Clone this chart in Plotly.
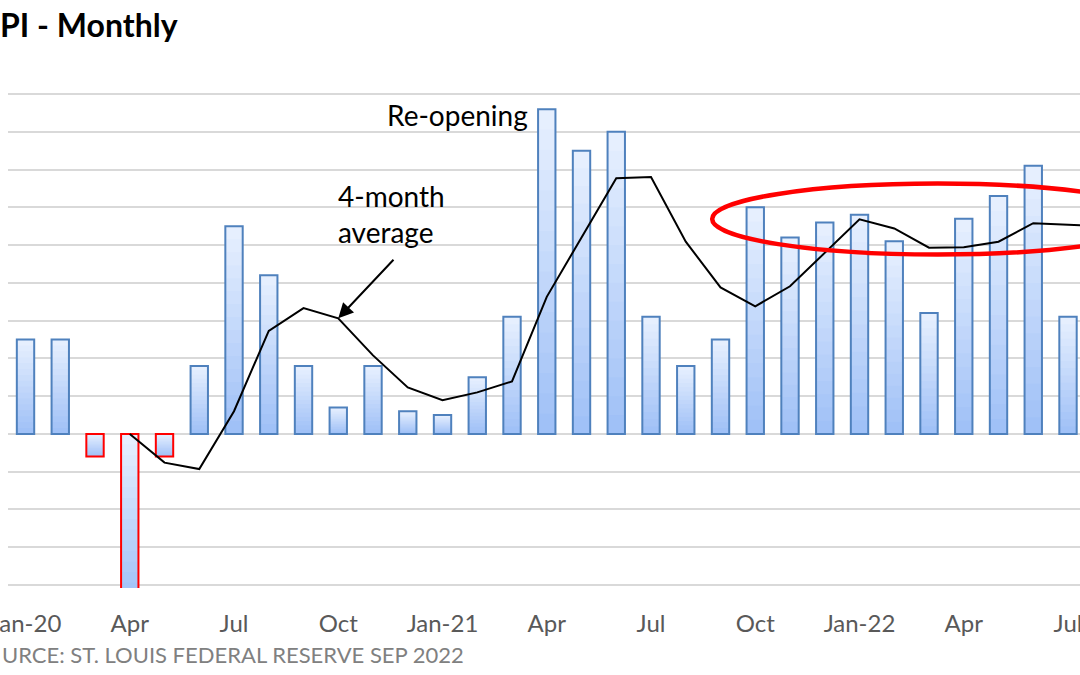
import plotly.graph_objects as go

# ---------------- data ----------------
months = ["Jan-20", "Feb-20", "Mar-20", "Apr-20", "May-20", "Jun-20", "Jul-20", "Aug-20",
          "Sep-20", "Oct-20", "Nov-20", "Dec-20", "Jan-21", "Feb-21", "Mar-21", "Apr-21",
          "May-21", "Jun-21", "Jul-21", "Aug-21", "Sep-21", "Oct-21", "Nov-21", "Dec-21",
          "Jan-22", "Feb-22", "Mar-22", "Apr-22", "May-22", "Jun-22", "Jul-22", "Aug-22"]

cpi_monthly = [0.25, 0.25, -0.06, -0.45, -0.06, 0.18, 0.55, 0.42,
               0.18, 0.07, 0.18, 0.06, 0.05, 0.15, 0.31, 0.86,
               0.75, 0.80, 0.31, 0.18, 0.25, 0.60, 0.52, 0.56,
               0.58, 0.51, 0.32, 0.57, 0.63, 0.71, 0.31, None]

avg_4month = [None, None, None, 0.00, -0.076, -0.093, 0.06, 0.273,
              0.333, 0.306, 0.208, 0.123, 0.089, 0.11, 0.139, 0.363,
              0.52, 0.677, 0.68, 0.509, 0.388, 0.338, 0.391, 0.48,
              0.568, 0.544, 0.493, 0.494, 0.509, 0.558, 0.555, 0.55]

tick_positions = [0, 3, 6, 9, 12, 15, 18, 21, 24, 27, 30]
tick_labels = ["Jan-20", "Apr", "Jul", "Oct", "Jan-21", "Apr", "Jul", "Oct", "Jan-22", "Apr", "Jul"]

x_idx = list(range(len(months)))

# ---------------- styling ----------------
FONT = "Lato"
TOP_RGB = (230, 239, 254)      # light top of bar gradient
BOT_RGB = (160, 193, 247)      # darker bottom of bar gradient
N_STEPS = 16
BAR_W = 0.5


def mix(t):
    r = round(TOP_RGB[0] + (BOT_RGB[0] - TOP_RGB[0]) * t)
    g = round(TOP_RGB[1] + (BOT_RGB[1] - TOP_RGB[1]) * t)
    b = round(TOP_RGB[2] + (BOT_RGB[2] - TOP_RGB[2]) * t)
    return f"rgb({r},{g},{b})"


fig = go.Figure()

# gradient fill: overlaid bars, each one a fraction of the value
for k in range(N_STEPS):
    frac = (N_STEPS - k) / N_STEPS
    vals = [None if v is None else v * frac for v in cpi_monthly]
    t = k / (N_STEPS - 1)
    cols = [mix(t) if (v is None or v >= 0) else mix(1 - t) for v in cpi_monthly]
    fig.add_trace(go.Bar(x=x_idx, y=vals, width=BAR_W,
                         marker=dict(color=cols, line=dict(width=0)),
                         hoverinfo="skip", showlegend=False))

# outlines
outline_cols = ["#4f81bd" if (v is None or v >= 0) else "#ff0000" for v in cpi_monthly]
fig.add_trace(go.Bar(x=x_idx, y=cpi_monthly, width=BAR_W,
                     marker=dict(color="rgba(0,0,0,0)",
                                 line=dict(color=outline_cols, width=2)),
                     hoverinfo="skip", showlegend=False))

# 4-month average line
fig.add_trace(go.Scatter(x=x_idx, y=avg_4month, mode="lines",
                         line=dict(color="black", width=2),
                         hoverinfo="skip", showlegend=False))

# red ellipse highlight
fig.add_shape(type="circle", xref="x", yref="y",
              x0=19.76, x1=32.74, y0=0.475, y1=0.663,
              line=dict(color="#ff0000", width=4.5), layer="above")

# text annotations
fig.add_annotation(x=14.52, y=0.845, xref="x", yref="y", text="Re-opening",
                   showarrow=False, xanchor="right", yanchor="middle",
                   font=dict(family=FONT, size=28, color="black"))
fig.add_annotation(x=8.94, y=0.582, xref="x", yref="y", text="4-month<br>average",
                   showarrow=False, xanchor="left", yanchor="middle", align="left",
                   font=dict(family=FONT, size=28, color="black"))
fig.add_annotation(x=9, y=0.306, xref="x", yref="y", ax=10.63, ay=0.465,
                   axref="x", ayref="y", text="", showarrow=True,
                   arrowhead=2, arrowsize=1.5, arrowwidth=2, arrowcolor="black",
                   standoff=0)

PLOT_TOP = 91
PLOT_BOTTOM = 588
src_y_px = 655
fig.add_annotation(x=(0 - 8) / (1080 - 8),
                   y=(PLOT_BOTTOM - src_y_px) / (PLOT_BOTTOM - PLOT_TOP),
                   xref="paper", yref="paper",
                   text="URCE: ST. LOUIS FEDERAL RESERVE SEP 2022",
                   showarrow=False, xanchor="left", yanchor="middle",
                   font=dict(family=FONT, size=22, color="#808080"))

fig.update_layout(
    width=1080, height=675,
    margin=dict(l=8, r=0, t=PLOT_TOP, b=675 - PLOT_BOTTOM, autoexpand=False),
    paper_bgcolor="white", plot_bgcolor="white",
    barmode="overlay",
    title=dict(text="<b>PI - Monthly</b>", x=0, xref="container", xanchor="left",
               y=1 - 26 / 675, yanchor="middle", pad=dict(l=0),
               font=dict(family=FONT, size=32, color="black")),
    xaxis=dict(range=[-0.504, 30.345], tickvals=tick_positions, ticktext=tick_labels,
               showgrid=False, zeroline=False, showline=False, ticks="",
               tickfont=dict(family=FONT, size=24, color="#595959"),
               ticklabelstandoff=19, ticklabeloverflow="allow", automargin=False),
    yaxis=dict(range=[-0.408, 0.908], dtick=0.1, tick0=0, showticklabels=False,
               showgrid=True, gridcolor="#d9d9d9", gridwidth=1.5,
               zeroline=False, showline=False, ticks="", automargin=False),
)

fig.write_html("out.html")
